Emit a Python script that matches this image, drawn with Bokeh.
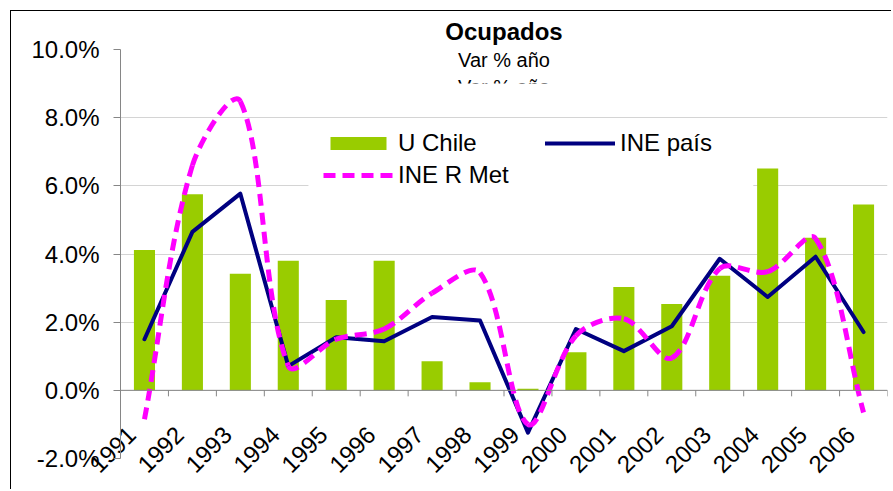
import math
from bokeh.plotting import figure
from bokeh.models import (Range1d, FixedTicker, CustomJSTickFormatter, Span, Label,
                          BoxAnnotation, Legend, LegendItem)
from bokeh.embed import file_html
from bokeh.resources import INLINE

# ---------------- data ----------------
years = ["1991", "1992", "1993", "1994", "1995", "1996", "1997", "1998",
         "1999", "2000", "2001", "2002", "2003", "2004", "2005", "2006"]
u_chile = [4.12, 5.75, 3.42, 3.80, 2.65, 3.80, 0.85, 0.24,
           0.05, 1.12, 3.03, 2.53, 3.36, 6.51, 4.48, 5.45]
ine_pais = [1.50, 4.65, 5.77, 0.71, 1.56, 1.44, 2.15, 2.05,
            -1.24, 1.80, 1.15, 1.88, 3.86, 2.74, 3.92, 1.71]
ine_rmet = [-0.85, 6.60, 8.48, 0.72, 1.50, 1.80, 2.85, 3.45,
            -1.00, 1.60, 2.10, 0.95, 3.57, 3.48, 4.45, -0.65]
y_ticks = [-2, 0, 2, 4, 6, 8, 10]

FONT = "Liberation Sans"
n = len(years)
centers = [i + 0.5 for i in range(n)]
edges = list(range(n + 1))

W, H = 881, 479
BL, BR, BT, BB = 109, 5, 38, 32
p = figure(width=W, height=H,
           x_range=Range1d(0, n), y_range=Range1d(y_ticks[0], y_ticks[-1]),
           output_backend="svg", toolbar_location=None,
           min_border_left=BL, min_border_right=BR, min_border_top=BT,
           min_border_bottom=BB)
p.styles = {"border-left": "1px solid #000000", "border-top": "1px solid #000000",
            "margin-left": "10px", "margin-top": "10px"}
p.outline_line_color = None
p.background_fill_color = "white"

# title
p.title.text = "Ocupados"
p.title.align = "center"
p.title.text_font = FONT
p.title.text_font_size = "24px"
p.title.text_font_style = "bold"
p.title.text_color = "black"
p.title.standoff = 9

# y axis
p.yaxis.ticker = FixedTicker(ticks=y_ticks)
p.yaxis.formatter = CustomJSTickFormatter(code="return tick.toFixed(1) + '%';")
p.yaxis.major_label_text_font = FONT
p.yaxis.major_label_text_font_size = "24px"
p.yaxis.major_label_text_color = "black"
p.yaxis.axis_line_color = "#868686"
p.yaxis.major_tick_line_color = "#868686"
p.yaxis.major_tick_out = 7
p.yaxis.major_tick_in = 0
p.yaxis.minor_tick_line_color = None
p.yaxis.major_label_standoff = 14
p.ygrid.grid_line_color = "#d4d4d4"
p.ygrid.grid_line_width = 1

# x axis: only its rotated year labels, pulled up next to the 0 line
label_shift = 0.27
p.xaxis.ticker = FixedTicker(ticks=[c - label_shift for c in centers])
p.xaxis.formatter = CustomJSTickFormatter(args=dict(labels=years),
                                          code="return labels[Math.floor(tick)];")
p.xaxis.major_label_orientation = math.pi / 4
p.xaxis.major_label_text_font = FONT
p.xaxis.major_label_text_font_size = "24px"
p.xaxis.major_label_text_color = "black"
p.xaxis.axis_line_color = None
p.xaxis.major_tick_line_color = None
p.xaxis.minor_tick_line_color = None
p.xaxis.major_tick_out = 0
p.xaxis.major_tick_in = 0
p.xaxis.major_label_standoff = -28
p.xgrid.visible = False

# white legend panel (hides the grid behind the legend, as in the original)
p.add_layout(BoxAnnotation(left=3.92, right=13.2, top=7.92, bottom=5.75,
                           fill_color="white", fill_alpha=1, line_color=None,
                           level="underlay"))

# series
bars = p.vbar(x=centers, top=u_chile, bottom=0, width=0.44,
              fill_color="#99cc00", line_color=None)
navy = p.line(x=centers, y=ine_pais, line_color="#000080", line_width=4,
              line_join="round", line_cap="round")

# smoothed dashed line: bezier segments through the data points
# (chord-length weighted tangents, computed in pixel proportions)
SX = (W - BL - BR) / n
SY = (H - BT - BB) / (y_ticks[-1] - y_ticks[0])
F = 1.0 / 3.0


def pix(i):
    return (centers[i] * SX, ine_rmet[i] * SY)


def dist(a, b):
    return math.hypot(b[0] - a[0], b[1] - a[1])


x0, y0, x1, y1, cx0, cy0, cx1, cy1 = [], [], [], [], [], [], [], []
for i in range(n - 1):
    a, b, c, d = pix(max(i - 1, 0)), pix(i), pix(i + 1), pix(min(i + 2, n - 1))
    wb = dist(b, c) / (dist(a, b) + dist(b, c))
    wc = dist(b, c) / (dist(b, c) + dist(c, d))
    k0 = (b[0] + (c[0] - a[0]) * F * wb, b[1] + (c[1] - a[1]) * F * wb)
    k1 = (c[0] - (d[0] - b[0]) * F * wc, c[1] - (d[1] - b[1]) * F * wc)
    x0.append(centers[i]); y0.append(ine_rmet[i])
    x1.append(centers[i + 1]); y1.append(ine_rmet[i + 1])
    cx0.append(k0[0] / SX); cy0.append(k0[1] / SY)
    cx1.append(k1[0] / SX); cy1.append(k1[1] / SY)
pink = p.bezier(x0=x0, y0=y0, x1=x1, y1=y1, cx0=cx0, cy0=cy0, cx1=cx1, cy1=cy1,
                line_color="#ff00ff", line_width=5, line_dash="12 7")

# category axis line at 0 with its tick marks
p.add_layout(Span(location=0, dimension="width", line_color="#868686", line_width=1))
p.ray(x=edges, y=[0] * len(edges), length=6, length_units="screen",
      angle=-math.pi / 2, line_color="#868686", line_width=1)

# subtitle (and its clipped duplicate)
p.add_layout(Label(x=n / 2, y=9.685, text="Var % año", text_align="center",
                   text_baseline="alphabetic", text_font=FONT,
                   text_font_size="20px", text_color="black"))
p.add_layout(Label(x=n / 2, y=8.91, text="Var % año", text_align="center",
                   text_baseline="alphabetic", text_font=FONT,
                   text_font_size="20px", text_color="black"))
p.add_layout(BoxAnnotation(left=6.9, right=9.2, top=9.0, bottom=8.2,
                           fill_color="white", fill_alpha=1, line_color=None))

legend = Legend(items=[LegendItem(label="U Chile", renderers=[bars]),
                       LegendItem(label="INE R Met", renderers=[pink]),
                       LegendItem(label="INE país", renderers=[navy])],
                ncols=2, location=(203, 269), padding=6, spacing=4,
                glyph_width=70, glyph_height=16, label_standoff=5, label_width=143,
                label_text_font=FONT, label_text_font_size="24px",
                label_text_color="black", background_fill_alpha=0,
                border_line_color=None, margin=0)
p.add_layout(legend)

open("out.html", "w").write(file_html(p, INLINE))
